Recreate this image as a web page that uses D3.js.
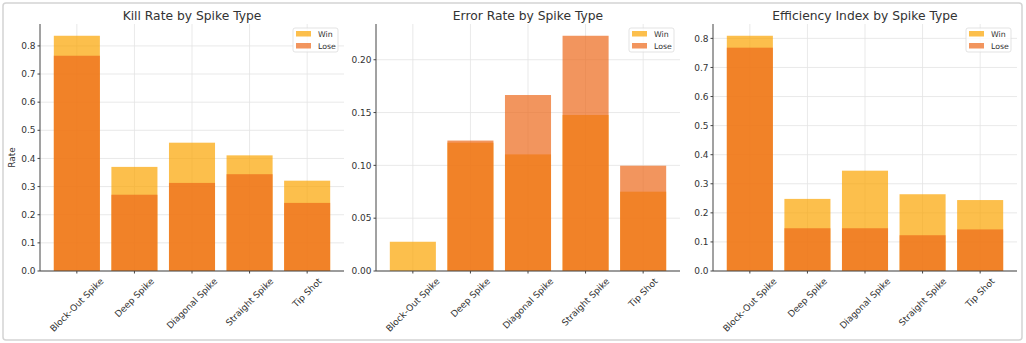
<!DOCTYPE html>
<html><head><meta charset="utf-8">
<script src="https://cdn.jsdelivr.net/npm/d3@7"></script>
<style>html,body{margin:0;padding:0;background:#fff;} svg{display:block;font-family:"DejaVu Sans",sans-serif;}</style>
</head><body>
<svg id="chart" width="1026" height="343"></svg>
<script>
const categories = ["Block-Out Spike", "Deep Spike", "Diagonal Spike", "Straight Spike", "Tip Shot"];
const seriesNames = ["Win", "Lose"];
const killWin = [0.836, 0.370, 0.456, 0.411, 0.321];
const killLose = [0.765, 0.271, 0.313, 0.344, 0.242];
const errorWin = [0.0277, 0.1215, 0.1104, 0.1477, 0.0751];
const errorLose = [0.0, 0.1235, 0.1666, 0.2227, 0.0997];
const effWin = [0.809, 0.248, 0.345, 0.264, 0.244];
const effLose = [0.768, 0.147, 0.147, 0.123, 0.143];
const killTicks = [0, 0.1, 0.2, 0.3, 0.4, 0.5, 0.6, 0.7, 0.8];
const errorTicks = [0, 0.05, 0.10, 0.15, 0.20];
const effTicks = [0, 0.1, 0.2, 0.3, 0.4, 0.5, 0.6, 0.7, 0.8];

const panels = [
  {title: "Kill Rate by Spike Type", win: killWin, lose: killLose, ticks: killTicks, fmt: d3.format(".1f"), left: 40, ylabel: "Rate"},
  {title: "Error Rate by Spike Type", win: errorWin, lose: errorLose, ticks: errorTicks, fmt: d3.format(".2f"), left: 376, ylabel: null},
  {title: "Efficiency Index by Spike Type", win: effWin, lose: effLose, ticks: effTicks, fmt: d3.format(".1f"), left: 713, ylabel: null}
];

const winColor = "#FBA400", loseColor = "#EC681A", barOpacity = 0.7;
const PW = 304, PTOP = 24, PBOT = 271;
const svg = d3.select("#chart");

svg.append("rect").attr("x", 3).attr("y", 3).attr("width", 1019).attr("height", 337)
  .attr("rx", 3).attr("fill", "none").attr("stroke", "#d4d4d4").attr("stroke-width", 1.5);

panels.forEach(p => {
  const g = svg.append("g");
  const x = d3.scaleLinear().domain([-0.64, 4.64]).range([p.left, p.left + PW]);
  const ymax = d3.max(p.win.concat(p.lose)) * 1.05;
  const y = d3.scaleLinear().domain([0, ymax]).range([PBOT, PTOP]);

  // grid
  g.selectAll(".hg").data(p.ticks).join("line")
    .attr("x1", p.left).attr("x2", p.left + PW)
    .attr("y1", d => y(d)).attr("y2", d => y(d))
    .attr("stroke", "#e3e3e3").attr("stroke-width", 0.8);
  g.selectAll(".vg").data(categories).join("line")
    .attr("x1", (d, i) => x(i)).attr("x2", (d, i) => x(i))
    .attr("y1", PTOP).attr("y2", PBOT)
    .attr("stroke", "#e3e3e3").attr("stroke-width", 0.8);

  // bars
  const bw = x(0.4) - x(0);
  g.selectAll(".win").data(p.win).join("rect")
    .attr("x", (d, i) => x(i) - bw).attr("width", 2 * bw)
    .attr("y", d => y(d)).attr("height", d => y(0) - y(d))
    .attr("fill", winColor).attr("fill-opacity", barOpacity);
  g.selectAll(".lose").data(p.lose).join("rect")
    .attr("x", (d, i) => x(i) - bw).attr("width", 2 * bw)
    .attr("y", d => y(d)).attr("height", d => y(0) - y(d))
    .attr("fill", loseColor).attr("fill-opacity", barOpacity);

  // spines
  g.append("line").attr("x1", p.left).attr("x2", p.left).attr("y1", PTOP).attr("y2", PBOT)
    .attr("stroke", "#444").attr("stroke-width", 1);
  g.append("line").attr("x1", p.left).attr("x2", p.left + PW).attr("y1", PBOT).attr("y2", PBOT)
    .attr("stroke", "#444").attr("stroke-width", 1);

  // y ticks
  g.selectAll(".yt").data(p.ticks).join("line")
    .attr("x1", p.left - 2.5).attr("x2", p.left)
    .attr("y1", d => y(d)).attr("y2", d => y(d)).attr("stroke", "#444");
  g.selectAll(".yl").data(p.ticks).join("text")
    .attr("x", p.left - 4.5).attr("y", d => y(d)).attr("dy", "0.35em")
    .attr("text-anchor", "end").attr("font-size", 9).attr("fill", "#333")
    .text(d => p.fmt(d));

  // x ticks
  g.selectAll(".xt").data(categories).join("line")
    .attr("x1", (d, i) => x(i)).attr("x2", (d, i) => x(i))
    .attr("y1", PBOT).attr("y2", PBOT + 2.5).attr("stroke", "#444");
  const xl = g.selectAll(".xl").data(categories).join("text")
    .attr("text-anchor", "middle").attr("dominant-baseline", "central")
    .attr("font-size", 9).attr("fill", "#333").text(d => d);
  xl.each(function(d, i) {
    const L = this.getComputedTextLength();
    const h = 10.5;
    const bh = (L + h) * Math.SQRT1_2;
    d3.select(this).attr("transform", `translate(${x(i)},${PBOT + 5 + bh / 2}) rotate(-45)`);
  });

  // title
  g.append("text").attr("x", p.left + PW / 2).attr("y", 19.5).attr("text-anchor", "middle")
    .attr("font-size", 12.3).attr("fill", "#333").text(p.title);

  if (p.ylabel) {
    g.append("text").attr("transform", `translate(15,${(PTOP + PBOT) / 2 + 10}) rotate(-90)`)
      .attr("text-anchor", "middle").attr("font-size", 9).attr("fill", "#333").text(p.ylabel);
  }

  // legend
  const lgRight = p.left + PW - 6;
  const lg = g.append("g").attr("transform", `translate(${lgRight - 45},28)`);
  lg.append("rect").attr("width", 45).attr("height", 24).attr("rx", 2)
    .attr("fill", "#fff").attr("fill-opacity", 0.8).attr("stroke", "#dcdcdc").attr("stroke-width", 0.8);
  seriesNames.forEach((s, k) => {
    lg.append("rect").attr("x", 3).attr("y", 3 + k * 12).attr("width", 15).attr("height", 5.5)
      .attr("fill", k === 0 ? winColor : loseColor).attr("fill-opacity", barOpacity);
    lg.append("text").attr("x", 25).attr("y", 6 + k * 12).attr("dy", "0.35em")
      .attr("font-size", 7.8).attr("fill", "#333").text(s);
  });
});
</script>
</body></html>
